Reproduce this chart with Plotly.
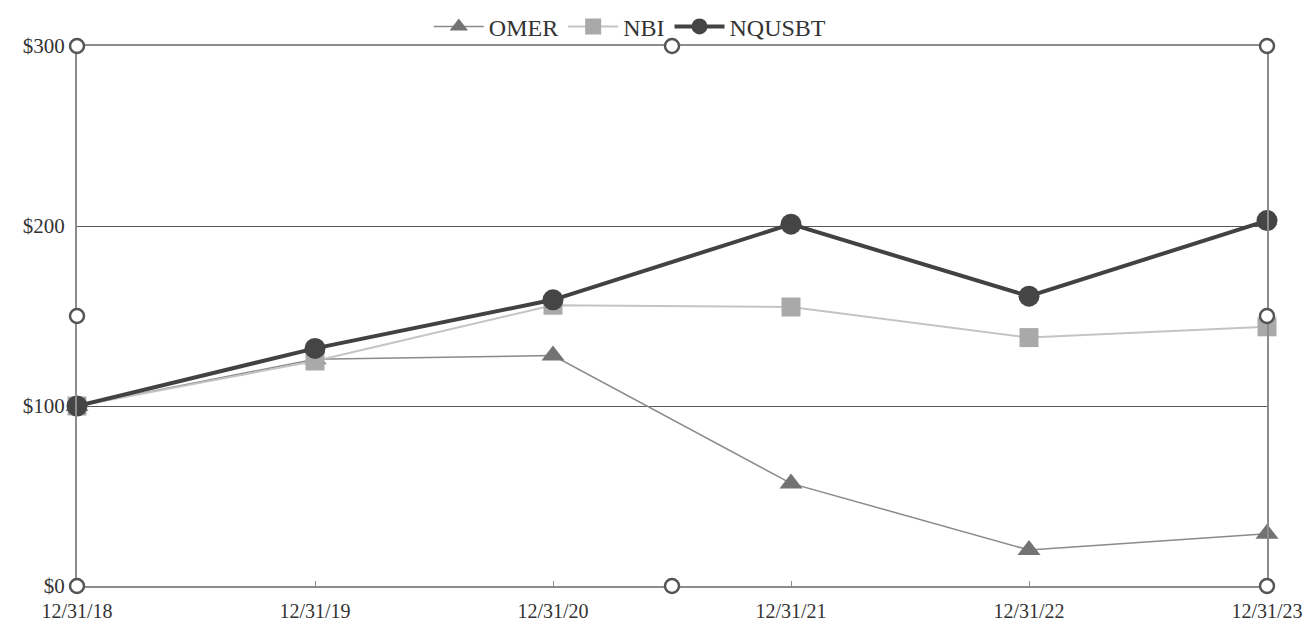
import plotly.graph_objects as go

dates = ["12/31/18", "12/31/19", "12/31/20", "12/31/21", "12/31/22", "12/31/23"]
omer = [100, 126, 128, 57, 20, 29]
nbi = [100, 125, 156, 155, 138, 144]
nqusbt = [100, 132, 159, 201, 161, 203]
y_ticks = [0, 100, 200, 300]
y_labels = ["$0", "$100", "$200", "$300"]

fig = go.Figure()
fig.add_trace(go.Scatter(x=dates, y=omer, name="OMER", mode="lines+markers", cliponaxis=False,
                         line=dict(color="#8a8a8a", width=1.5),
                         marker=dict(symbol="triangle-up", size=20, color="#737373")))
fig.add_trace(go.Scatter(x=dates, y=nbi, name="NBI", mode="lines+markers", cliponaxis=False,
                         line=dict(color="#c4c4c4", width=2),
                         marker=dict(symbol="square", size=19, color="#a9a9a9")))
fig.add_trace(go.Scatter(x=dates, y=nqusbt, name="NQUSBT", mode="lines+markers", cliponaxis=False,
                         line=dict(color="#424242", width=4),
                         marker=dict(symbol="circle", size=21, color="#454545")))

# selection handles (decorative)
shapes = []
for px in (0, 0.5, 1):
    for py in (0, 0.5, 1):
        if px == 0.5 and py == 0.5:
            continue
        shapes.append(dict(type="circle", xref="paper", yref="paper",
                           xsizemode="pixel", ysizemode="pixel",
                           xanchor=px, yanchor=py, x0=-7, x1=7, y0=-7, y1=7,
                           line=dict(color="#555555", width=2.5), fillcolor="white",
                           layer="above"))

fig.update_layout(
    width=1305, height=624,
    margin=dict(l=77, r=38, t=46, b=38, autoexpand=False),
    paper_bgcolor="white", plot_bgcolor="white",
    font=dict(family="Liberation Serif", size=21, color="#333333"),
    showlegend=True,
    legend=dict(orientation="h", xref="container", yref="container",
                x=0.483, xanchor="center", y=0.957, yanchor="middle",
                font=dict(size=24, color="#333333"), tracegroupgap=0,
                itemwidth=50, bgcolor="rgba(0,0,0,0)"),
    shapes=shapes,
    xaxis=dict(type="category", range=[0, 5], showgrid=False, showline=True,
               linecolor="#8c8c8c", linewidth=2, mirror=True, automargin=False,
               ticks="inside", ticklen=5, tickcolor="#8c8c8c",
               tickfont=dict(size=20), ticklabelstandoff=6),
    yaxis=dict(range=[0, 300], tickmode="array", tickvals=y_ticks, ticktext=y_labels,
               showgrid=True, gridcolor="#5a5a5a", gridwidth=1.2, automargin=False,
               showline=True, linecolor="#8c8c8c", linewidth=2, mirror=True,
               zeroline=False, ticks="", tickfont=dict(size=21), ticklabelstandoff=6),
)

fig.write_html("out.html", config={"displayModeBar": False},
               post_script="document.body.style.margin='0';document.body.style.overflow='hidden';")
